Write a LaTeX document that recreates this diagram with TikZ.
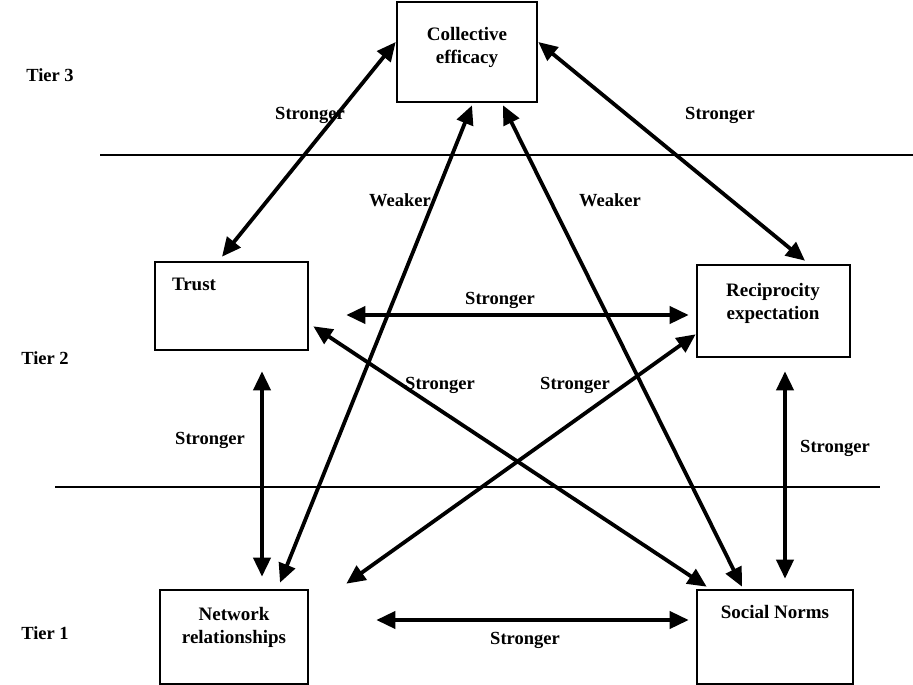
\documentclass[tikz,border=0pt]{standalone}
\usepackage{fontspec}
\setmainfont{Liberation Serif}
\usetikzlibrary{arrows.meta,calc}
\begin{document}
\begin{tikzpicture}[x=1pt,y=-1pt,
  box/.style={draw,line width=2.6pt,rectangle,inner sep=0pt},
  txt/.style={font=\fontsize{19}{23}\selectfont\bfseries,align=center,inner sep=0pt},
  lbl/.style={font=\fontsize{18.5}{22}\selectfont\bfseries,inner sep=0pt},
  tierline/.style={line width=2pt},
  link/.style={line width=3.8pt,{Triangle[length=19pt,width=17pt]}-{Triangle[length=19pt,width=17pt]}}]
\useasboundingbox (0,0) rectangle (913,685);

% tier separators
\coordinate (l1a) at (100,155);
\coordinate (l1b) at (913,155);
\coordinate (l2a) at (55,487);
\coordinate (l2b) at (880,487);
\draw[tierline] (l1a) -- (l1b);
\draw[tierline] (l2a) -- (l2b);

% tier labels
\node[lbl] (t3) at (50,75) {Tier 3};
\node[lbl] (t2) at (45,358) {Tier 2};
\node[lbl] (t1) at (45,633) {Tier 1};

% boxes
\node[box,minimum width=140pt,minimum height=100pt] (ce) at (467,52) {};
\node[box,minimum width=153pt,minimum height=88pt] (trust) at (231.5,306) {};
\node[box,minimum width=153pt,minimum height=92pt] (recip) at (773.5,311) {};
\node[box,minimum width=148pt,minimum height=94pt] (net) at (234,637) {};
\node[box,minimum width=156pt,minimum height=94pt] (soc) at (775,637) {};

% box texts
\node[txt] (cet) at (467,47) {Collective\\efficacy};
\node[txt] (trustt) at (194,284) {Trust};
\node[txt] (recipt) at (773,303) {Reciprocity\\expectation};
\node[txt] (nett) at (234,627) {Network\\relationships};
\node[txt] (soct) at (775,612) {Social Norms};

% connector ends
\coordinate (a1s) at ($(trust.north)+(-9.5,-4)$);
\coordinate (a1e) at ($(ce.west)+(0,-10)$);
\coordinate (a2s) at ($(ce.east)+(0,-10)$);
\coordinate (a2e) at ($(recip.north)+(31.5,-3)$);
\coordinate (a3s) at ($(ce.south)+(5,2)$);
\coordinate (a3e) at ($(net.north)+(46,-6)$);
\coordinate (a4s) at ($(ce.south)+(36,2)$);
\coordinate (a4e) at ($(soc.north)+(-33,-2)$);
\coordinate (a5s) at ($(trust.east)+(37,9)$);
\coordinate (a5e) at ($(recip.west)+(-7,4)$);
\coordinate (a6s) at ($(trust.south east)+(4,-25)$);
\coordinate (a6e) at ($(soc.north west)+(11,-2)$);
\coordinate (a7s) at ($(recip.south west)+(0,-24)$);
\coordinate (a7e) at ($(net.north east)+(37,-5)$);
\coordinate (a8s) at ($(trust.south)+(30.5,20)$);
\coordinate (a8e) at ($(net.north)+(28,-12)$);
\coordinate (a9s) at ($(recip.south)+(11.5,13)$);
\coordinate (a9e) at ($(soc.north)+(10,-10)$);
\coordinate (a10s) at ($(net.east)+(67,-17)$);
\coordinate (a10e) at ($(soc.west)+(-7,-17)$);

% connectors
\draw[link] (a1s) -- (a1e);
\draw[link] (a2s) -- (a2e);
\draw[link] (a3s) -- (a3e);
\draw[link] (a4s) -- (a4e);
\draw[link] (a5s) -- (a5e);
\draw[link] (a6s) -- (a6e);
\draw[link] (a7s) -- (a7e);
\draw[link] (a8s) -- (a8e);
\draw[link] (a9s) -- (a9e);
\draw[link] (a10s) -- (a10e);

% connector labels
\node[lbl] (s1) at (310,115) {Stronger};
\node[lbl] (s2) at (720,115) {Stronger};
\node[lbl] (w1) at (400,200) {Weaker};
\node[lbl] (w2) at (610,200) {Weaker};
\node[lbl] (s5) at (500,300) {Stronger};
\node[lbl] (s6) at (440,385) {Stronger};
\node[lbl] (s7) at (575,385) {Stronger};
\node[lbl] (s8) at (210,440) {Stronger};
\node[lbl] (s9) at (835,448) {Stronger};
\node[lbl] (s10) at (525,640) {Stronger};
\end{tikzpicture}
\end{document}
